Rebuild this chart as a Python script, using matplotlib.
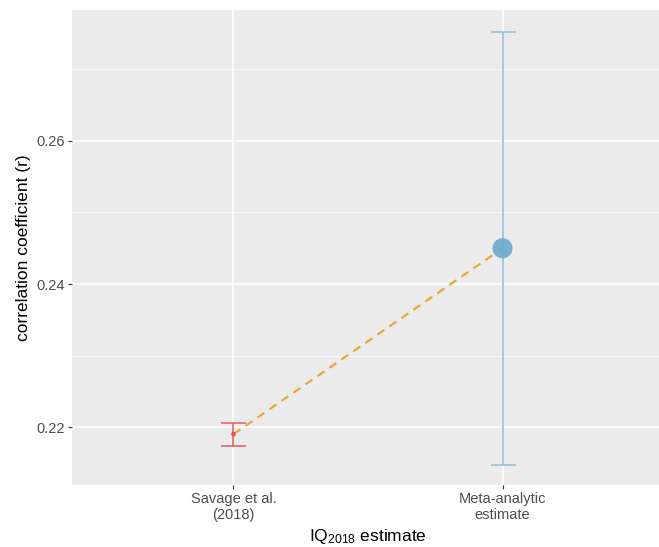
import matplotlib
matplotlib.use("Agg")
import matplotlib.pyplot as plt
from matplotlib.ticker import FixedLocator

plt.rcParams['font.family'] = ['Liberation Sans', 'DejaVu Sans']
plt.rcParams['mathtext.fontset'] = 'custom'
plt.rcParams['mathtext.rm'] = 'Liberation Sans'

categories = ["Savage et al.\n(2018)", "Meta-analytic\nestimate"]
estimates = [0.2190, 0.2450]
lower = [0.2173, 0.2147]
upper = [0.2206, 0.2752]
colors = ["#E25C60", "#8DBCD6"]
point_colors = ["#D9545A", "#6AAACF"]
point_sizes = [12, 210]

fig = plt.figure(figsize=(6.59, 5.47), dpi=100)
ax = fig.add_axes([72/659, (547-485)/547, (664-72)/659, (485-10)/547])
ax.set_facecolor("#EBEBEB")
for s in ax.spines.values():
    s.set_visible(False)

x = list(range(1, len(categories) + 1))
ax.set_xlim(0.4, 2.6)
ax.set_ylim(0.21189, 0.27832)

ax.yaxis.set_major_locator(FixedLocator([0.22, 0.24, 0.26]))
ax.yaxis.set_minor_locator(FixedLocator([0.23, 0.25, 0.27]))
ax.set_xticks(x)
ax.set_xticklabels(categories, linespacing=1.15)
ax.set_yticklabels(["0.22", "0.24", "0.26"])
ax.grid(True, which='major', color='white', linewidth=1.1)
ax.grid(True, which='minor', axis='y', color='white', linewidth=0.5)
ax.set_axisbelow(True)
ax.tick_params(axis='both', which='major', length=3, color='#333333', width=0.8,
               labelsize=10.5, labelcolor='#4D4D4D', pad=2)
ax.tick_params(axis='y', which='minor', length=0)

for i in range(len(categories)):
    ax.errorbar(x[i], estimates[i],
                yerr=[[estimates[i] - lower[i]], [upper[i] - estimates[i]]],
                fmt='none', ecolor=colors[i], elinewidth=1.1, capsize=9, capthick=1.1,
                zorder=3)
ax.plot(x, estimates, linestyle='--', color='#E8A530', linewidth=1.5, dashes=(4, 3), zorder=4)
for i in range(len(categories)):
    ax.scatter(x[i], estimates[i], s=point_sizes[i], color=point_colors[i], zorder=5,
               edgecolors='none', alpha=0.9)

ax.set_ylabel("correlation coefficient (r)", fontsize=12.5, color='black', labelpad=4)
ax.set_xlabel(r"$\mathregular{IQ_{2018}}$ estimate", fontsize=12.5, color='black', labelpad=4)

fig.savefig("out.png", dpi=100)
